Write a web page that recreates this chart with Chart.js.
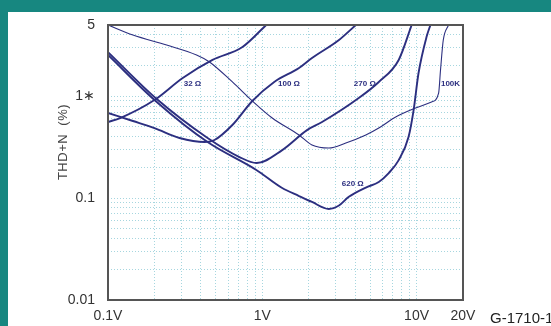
<!DOCTYPE html>
<html>
<head>
<meta charset="utf-8">
<script src="https://cdn.jsdelivr.net/npm/chart.js@4.4.1/dist/chart.umd.min.js"></script>
<style>
  html, body { margin: 0; padding: 0; background: #fff; }
  canvas { display: block; }
</style>
</head>
<body>
<canvas id="thdChart" width="551" height="326"></canvas>
<script>
// Output level (V rms) vs THD+N (%) for several loads
const volts32 = [0.1, 0.12, 0.2, 0.305, 0.476, 0.744, 1.06];
const thd32 = [0.558, 0.611, 0.918, 1.51, 2.27, 3.04, 5.0];

const volts100 = [0.1, 0.145, 0.2, 0.291, 0.423, 0.49, 0.64, 0.862, 1.195, 1.73, 2.1, 3.14, 4.04];
const thd100 = [0.684, 0.571, 0.487, 0.389, 0.355, 0.372, 0.522, 0.898, 1.38, 1.89, 2.37, 3.56, 5.0];

const volts270 = [0.1, 0.207, 0.442, 0.711, 0.92, 1.346, 1.95, 2.44, 4.22, 5.69, 7.66, 9.3];
const thd270 = [2.71, 0.938, 0.389, 0.253, 0.221, 0.296, 0.465, 0.558, 0.96, 1.38, 2.27, 5.0];

const volts620 = [0.1, 0.207, 0.442, 0.915, 1.346, 1.73, 2.1, 2.7, 3.14, 3.64, 4.69, 5.69, 6.6, 7.66, 8.87, 9.57, 10.3, 11.6, 12.3];
const thd620 = [2.54, 0.878, 0.355, 0.189, 0.1256, 0.1048, 0.0916, 0.0782, 0.0845, 0.103, 0.127, 0.144, 0.176, 0.236, 0.398, 0.732, 1.69, 3.81, 5.0];

const volts100k = [0.1, 0.145, 0.24, 0.375, 0.455, 0.64, 0.862, 1.16, 1.73, 2.1, 2.7, 3.48, 4.69, 5.69, 7.32, 9.85, 12.5, 13.9, 14.3, 14.9, 16.1];
const thd100k = [5.0, 3.99, 3.18, 2.54, 2.17, 1.38, 0.898, 0.611, 0.416, 0.332, 0.31, 0.347, 0.416, 0.487, 0.625, 0.766, 0.877, 1.075, 1.81, 3.56, 5.0];

// curve tags, placed in data units
const curveLabels = ['32 Ω', '100 Ω', '270 Ω', '620 Ω', '100K'];
const labelVolts = [0.353, 1.49, 4.62, 3.86, 16.6];
const labelThd = [1.32, 1.32, 1.32, 0.137, 1.32];

// axis ticks (grid at every one) and the ones that get text
const xTicks = [0.1, 0.2, 0.3, 0.4, 0.5, 0.6, 0.7, 0.8, 0.9, 1, 2, 3, 4, 5, 6, 7, 8, 9, 10, 20];
const xTickText = { 0.1: '0.1V', 1: '1V', 10: '10V', 20: '20V' };
const yTicks = [0.01, 0.02, 0.03, 0.04, 0.05, 0.06, 0.07, 0.08, 0.09, 0.1, 0.2, 0.3, 0.4, 0.5, 0.6, 0.7, 0.8, 0.9, 1, 2, 3, 4, 5];
const yTickText = { 0.01: '0.01', 0.1: '0.1', 1: '1∗', 5: '5' };

const NAVY = '#2c2f80';
const FONT = '"Liberation Sans", Arial, sans-serif';

function pairs(xs, ys) {
    return xs.map((x, i) => ({ x: x, y: ys[i] }));
}

function curve(xs, ys, width) {
    return {
        data: pairs(xs, ys),
        borderColor: NAVY,
        borderWidth: width,
        pointRadius: 0,
        fill: false,
        cubicInterpolationMode: 'monotone'
    };
}

const decorPlugin = {
    id: 'decor',
    beforeDraw(chart) {
        const ctx = chart.ctx;
        ctx.save();
        ctx.fillStyle = '#fff';
        ctx.fillRect(0, 0, chart.width, chart.height);
        ctx.fillStyle = '#178780';
        ctx.fillRect(0, 0, chart.width, 12);
        ctx.fillRect(0, 0, 8, chart.height);
        ctx.restore();
    },
    afterDraw(chart) {
        const { ctx, chartArea: a, scales } = chart;
        ctx.save();
        ctx.strokeStyle = '#555';
        ctx.lineWidth = 2;
        ctx.strokeRect(a.left, a.top, a.right - a.left, a.bottom - a.top);

        ctx.fillStyle = NAVY;
        ctx.font = 'bold 8px ' + FONT;
        ctx.textAlign = 'center';
        ctx.textBaseline = 'middle';
        curveLabels.forEach((t, i) => {
            ctx.fillText(t, scales.x.getPixelForValue(labelVolts[i]), scales.y.getPixelForValue(labelThd[i]));
        });

        // y axis title
        ctx.fillStyle = '#444';
        ctx.font = '13px ' + FONT;
        ctx.letterSpacing = '0.5px';
        ctx.translate(63, 142);
        ctx.rotate(-Math.PI / 2);
        ctx.fillText('THD+N  (%)', 0, 0);
        ctx.restore();

        ctx.save();
        ctx.fillStyle = '#222';
        ctx.font = '15px ' + FONT;
        ctx.textAlign = 'left';
        ctx.textBaseline = 'middle';
        ctx.fillText('G-1710-1', 490, 319);
        ctx.restore();
    }
};

const gridOpts = { color: '#a6d6df', lineWidth: 1, drawTicks: false };
const borderOpts = { display: false, dash: [1, 2] };

new Chart(document.getElementById('thdChart'), {
    type: 'line',
    data: {
        datasets: [
            curve(volts100k, thd100k, 1.1),
            curve(volts32, thd32, 1.9),
            curve(volts100, thd100, 1.9),
            curve(volts270, thd270, 1.9),
            curve(volts620, thd620, 1.9)
        ]
    },
    options: {
        responsive: false,
        animation: false,
        devicePixelRatio: 1,
        layout: { padding: { left: 0, top: 25, right: 88, bottom: 0 } },
        plugins: { legend: { display: false }, tooltip: { enabled: false } },
        scales: {
            x: {
                type: 'logarithmic',
                min: 0.1,
                max: 20,
                grid: gridOpts,
                border: borderOpts,
                afterBuildTicks: s => { s.ticks = xTicks.map(v => ({ value: v })); },
                afterFit: s => { s.height = 26; },
                ticks: {
                    autoSkip: false,
                    maxRotation: 0,
                    padding: 8,
                    color: '#333',
                    font: { family: FONT, size: 14 },
                    callback: v => xTickText[v] || ''
                }
            },
            y: {
                type: 'logarithmic',
                min: 0.01,
                max: 5,
                grid: gridOpts,
                border: borderOpts,
                afterBuildTicks: s => { s.ticks = yTicks.map(v => ({ value: v })); },
                afterFit: s => { s.width = 108; },
                ticks: {
                    autoSkip: false,
                    padding: 13,
                    color: '#333',
                    font: { family: FONT, size: 14 },
                    callback: v => yTickText[v] || ''
                }
            }
        }
    },
    plugins: [decorPlugin]
});
</script>
</body>
</html>
